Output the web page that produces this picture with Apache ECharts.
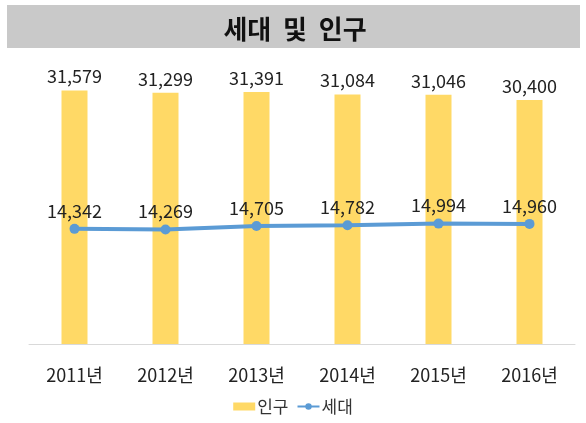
<!DOCTYPE html>
<html>
<head>
<meta charset="utf-8">
<script src="https://cdn.jsdelivr.net/npm/echarts@6/dist/echarts.min.js"></script>
<style>
    html, body { margin: 0; padding: 0; background: #fff; }
    #chart { width: 586px; height: 423px; }
</style>
</head>
<body>
<div id="chart"></div>
<script>
// 연도별 세대 및 인구
var years = ['2011년', '2012년', '2013년', '2014년', '2015년', '2016년'];
var population = [31579, 31299, 31391, 31084, 31046, 30400];
var households = [14342, 14269, 14705, 14782, 14994, 14960];

var font = '"Malgun Gothic", "Noto Sans CJK KR", sans-serif';

function fmt(p) {
    return p.value.toLocaleString('en-US');
}

var option = {
    backgroundColor: '#fff',
    animation: false,
    textStyle: { fontFamily: font },
    graphic: [
        {
            type: 'rect',
            shape: { x: 7, y: 5, width: 573, height: 43 },
            style: { fill: '#c9c9c9' },
            z: 0
        },
        {
            type: 'text',
            x: 295, y: 29,
            style: {
                text: '세대  및  인구',
                font: 'bold 26px ' + font,
                fill: '#111',
                align: 'center',
                verticalAlign: 'middle'
            }
        }
    ],
    legend: {
        bottom: 3,
        left: 'center',
        itemGap: 8,
        itemWidth: 22,
        itemHeight: 8,
        textStyle: { fontSize: 17, color: '#333', fontFamily: font, padding: [0, 0, 0, -3] },
        data: [
            { name: '인구', icon: 'rect', itemStyle: { color: '#ffd966' } },
            { name: '세대' }
        ]
    },
    grid: { left: 29, right: 11, top: 63, bottom: 79 },
    xAxis: {
        type: 'category',
        data: years,
        axisLine: { lineStyle: { color: '#d9d9d9', width: 1 } },
        axisTick: { show: false },
        axisLabel: { fontSize: 18, color: '#222', margin: 22, fontFamily: font }
    },
    yAxis: {
        type: 'value',
        min: 0,
        max: 35000,
        show: false,
        splitLine: { show: false }
    },
    series: [
        {
            name: '인구',
            type: 'bar',
            data: population,
            barWidth: 26,
            itemStyle: { color: '#ffd966' },
            label: {
                show: true,
                position: 'top',
                distance: 5,
                fontSize: 18,
                color: '#222',
                formatter: fmt
            }
        },
        {
            name: '세대',
            type: 'line',
            data: households,
            symbol: 'circle',
            symbolSize: 10,
            lineStyle: { color: '#5b9bd5', width: 4 },
            itemStyle: { color: '#5b9bd5' },
            label: {
                show: true,
                position: 'top',
                distance: 4,
                fontSize: 18,
                color: '#222',
                formatter: fmt
            }
        }
    ]
};

var myChart = echarts.init(document.getElementById('chart'));
myChart.setOption(option);
</script>
</body>
</html>
